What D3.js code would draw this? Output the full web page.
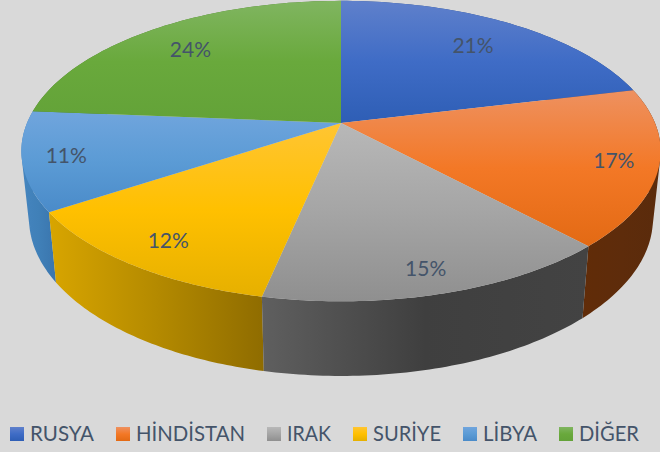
<!DOCTYPE html>
<html>
<head>
<meta charset="utf-8">
<script src="https://cdn.jsdelivr.net/npm/d3@7"></script>
<style>
  html, body { margin: 0; padding: 0; background: #d9d9d9; }
  svg { display: block; }
  text { font-family: Lato, "Open Sans", sans-serif; fill: #44546a; }
</style>
</head>
<body>
<div id="chart"></div>
<script>
const categories = ['RUSYA', 'HİNDİSTAN', 'IRAK', 'SURİYE', 'LİBYA', 'DİĞER'];
const shares = [21.2, 16.9, 15.2, 12.4, 10.6, 23.7];

// vertical gradients of the top face [top, middle, bottom]
const faceColors = [
    ['#5f80cb', '#3f6cc6', '#2e5eb5'],
    ['#ee9160', '#f37826', '#e36a14'],
    ['#b8b8b8', '#a5a5a5', '#8f8f8f'],
    ['#ffc533', '#ffc000', '#e6b000'],
    ['#70a5dd', '#5b9bd5', '#4a8bc9'],
    ['#80b560', '#69a93c', '#63a238']
];
// horizontal gradients of the side wall [left, middle, right]
const wallColors = [
    ['#2a4f95', '#264a8c', '#234584'],
    ['#612c08', '#5e2c0b', '#5a2b0c'],
    ['#5f5f5f', '#3f3f3f', '#434343'],
    ['#d8a500', '#b48a00', '#8f6c00'],
    ['#4585bf', '#4080b8', '#3a75ad'],
    ['#4a7d2b', '#4a7d2b', '#4a7d2b']
];
// where each percent label sits: fraction of the radius, then a small sideways nudge
const labelRadius = [0.75, 0.865, 0.88, 0.85, 0.87, 0.755];
const labelNudge = [1, 0, -3, 0, 1, -5];
// legend text widths, Lato runs a bit wider than the original font
const legendWidths = [64, 109, 44, 68, 54, 60];

const width = 660, height = 452;
const top3d = { cx: 341, cy: 123, rx: 314, ry: 145, k: 0.187 };
const base3d = { cy: 189, sx: 0.976, sy: 1.048 };

const svg = d3.select('#chart').append('svg')
    .attr('width', width)
    .attr('height', height);
const defs = svg.append('defs');

// tilted circle -> screen, a is clockwise from north
function project(a, r) {
    let w = 1 + top3d.k * r * Math.cos(a);
    return [
        top3d.cx + top3d.rx * r * Math.sin(a) / w,
        top3d.cy - top3d.ry * r * Math.cos(a) / w
    ];
}
function projectBase(a, r) {
    let p = project(a, r);
    return [
        top3d.cx + (p[0] - top3d.cx) * base3d.sx,
        base3d.cy + (p[1] - top3d.cy) * base3d.sy
    ];
}

function addGradient(id, colors, horizontal) {
    let g = defs.append('linearGradient')
        .attr('id', id)
        .attr('x1', 0).attr('y1', 0)
        .attr('x2', horizontal ? 1 : 0)
        .attr('y2', horizontal ? 0 : 1);
    colors.forEach(function(c, i) {
        g.append('stop').attr('offset', i / 2).attr('stop-color', c);
    });
}
categories.forEach(function(c, i) {
    addGradient('face' + i, faceColors[i], false);
    addGradient('wall' + i, wallColors[i], true);
});

const pie = d3.pie().sort(null).value(function(d) { return d; });
const arcs = pie(shares);
const line = d3.line();

function arcAngles(d) {
    return d3.range(0, 61).map(function(i) {
        return d.startAngle + (d.endAngle - d.startAngle) * i / 60;
    });
}

// wall of one slice as quads all wound the same way, so the silhouette fills in
function wallPath(d) {
    let angles = arcAngles(d);
    let out = '';
    for (let i = 0; i < angles.length - 1; i++) {
        let quad = [
            project(angles[i], 1), project(angles[i + 1], 1),
            projectBase(angles[i + 1], 1), projectBase(angles[i], 1)
        ];
        if (d3.polygonArea(quad) < 0) quad.reverse();
        out += line(quad) + 'Z';
    }
    return out;
}

// side walls first, back ones before front ones
let wallOrder = arcs.slice().sort(function(a, b) {
    return Math.cos((b.startAngle + b.endAngle) / 2) - Math.cos((a.startAngle + a.endAngle) / 2);
});
svg.append('g').selectAll('path')
    .data(wallOrder)
    .enter().append('path')
    .attr('d', wallPath)
    .attr('fill', function(d) { return 'url(#wall' + d.index + ')'; });

// top face
svg.append('g').selectAll('path')
    .data(arcs)
    .enter().append('path')
    .attr('d', function(d) {
        let outer = arcAngles(d).map(function(a) { return project(a, 1); });
        return line([[top3d.cx, top3d.cy]].concat(outer)) + 'Z';
    })
    .attr('fill', function(d) { return 'url(#face' + d.index + ')'; });

// percent labels
svg.append('g').selectAll('text')
    .data(arcs)
    .enter().append('text')
    .attr('x', function(d) { return project((d.startAngle + d.endAngle) / 2, labelRadius[d.index])[0] + labelNudge[d.index]; })
    .attr('y', function(d) { return project((d.startAngle + d.endAngle) / 2, labelRadius[d.index])[1]; })
    .attr('text-anchor', 'middle')
    .attr('dy', '0.35em')
    .style('font-size', '21px')
    .text(function(d) { return Math.round(d.data) + '%'; });

// legend
let legend = svg.append('g');
let legendX = 10;
categories.forEach(function(c, i) {
    legend.append('rect')
        .attr('x', legendX).attr('y', 427)
        .attr('width', 14).attr('height', 14)
        .attr('fill', 'url(#face' + i + ')');
    legend.append('text')
        .attr('x', legendX + 20).attr('y', 441)
        .attr('textLength', legendWidths[i])
        .attr('lengthAdjust', 'spacingAndGlyphs')
        .style('font-size', '20.5px')
        .text(c);
    legendX += 20 + legendWidths[i] + 22;
});
</script>
</body>
</html>
